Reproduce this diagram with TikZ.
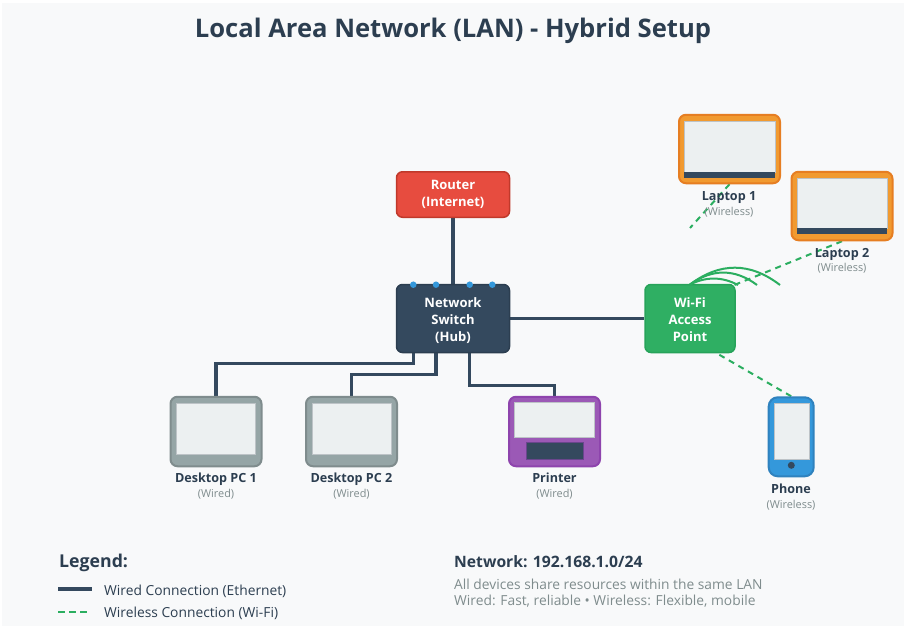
\documentclass[tikz,border=0pt]{standalone}
\usepackage{fontspec}
\setmainfont{Open Sans}
\usetikzlibrary{backgrounds}
\definecolor{bg}{HTML}{F8F9FA}
\definecolor{navy}{HTML}{34495E}
\definecolor{ink}{HTML}{2C3E50}
\definecolor{grayt}{HTML}{7F8C8D}
\definecolor{wgreen}{HTML}{2BAE60}
\definecolor{apfill}{HTML}{2FAF63}
\definecolor{apline}{HTML}{27A35A}
\definecolor{screen}{HTML}{ECF0F1}
\definecolor{scrline}{HTML}{BDC3C7}
\definecolor{portblue}{HTML}{3498DB}
\definecolor{phoneline}{HTML}{2F82BE}
\definecolor{redfill}{HTML}{E74C3F}
\definecolor{redline}{HTML}{C0392B}
\definecolor{orfill}{HTML}{F19A30}
\definecolor{orline}{HTML}{E67E22}
\definecolor{pcfill}{HTML}{95A5A6}
\definecolor{pcline}{HTML}{7F8C8D}
\definecolor{prfill}{HTML}{9B59B6}
\definecolor{prline}{HTML}{8E44AD}
\newcommand\boxtext[2]{\raisebox{#1}[0pt][0pt]{\begin{tabular}[t]{@{}c@{}}#2\end{tabular}}}
\tikzset{
  x=1pt,y=-1pt,
  netbox/.style={rectangle,rounded corners=6pt,minimum width=113pt,text=white,font=\fontsize{13}{17}\selectfont\bfseries,inner sep=0pt,line width=1.5pt},
  devlabel/.style={font=\fontsize{12.6}{14}\selectfont\bfseries,text=ink,inner sep=0pt,anchor=base},
  devsub/.style={font=\fontsize{10.9}{12}\selectfont,text=grayt,inner sep=0pt,anchor=base},
  wired/.style={draw=navy,line width=3.2pt,line join=miter},
  wifi/.style={draw=wgreen,line width=2pt,dash pattern=on 6pt off 5pt},
  wave/.style={draw=wgreen,line width=2pt},
  devbody/.style={rectangle,line width=2pt,rounded corners=7pt,inner sep=0pt},
  scr/.style={rectangle,fill=screen,draw=scrline,line width=1pt,inner sep=0pt},
  port/.style={circle,fill=portblue,inner sep=0pt,minimum size=6.5pt},
  legendt/.style={font=\fontsize{13.8}{15}\selectfont,text=ink,inner sep=0pt,anchor=base west},
  notet/.style={font=\fontsize{13.8}{15}\selectfont,text=grayt,inner sep=0pt,anchor=base west},
  headt/.style={font=\fontsize{15.7}{18}\selectfont\bfseries,text=ink,inner sep=0pt,anchor=base west},
}
\begin{document}
\begin{tikzpicture}
\useasboundingbox (0,0) rectangle (907,629);
\node[font=\fontsize{25.6}{30}\selectfont\bfseries,text=ink,inner sep=0pt,anchor=base] (title) at (453,37) {Local Area Network (LAN) - Hybrid Setup};
% main boxes
\node[netbox,fill=redfill,draw=redline,minimum height=45.5pt] (router) at (453,194.5) {\boxtext{5.5pt}{Router\\(Internet)}};
\node[netbox,fill=navy,draw=ink,minimum height=68pt] (switch) at (453,318.5) {\boxtext{11.5pt}{Network\\Switch\\(Hub)}};
\node[netbox,fill=apfill,draw=apline,minimum width=90pt,minimum height=68pt] (ap) at (690,318.5) {\boxtext{11.5pt}{Wi-Fi\\Access\\Point}};
\node[port] (port1) at (413.3,284.7) {};
\node[port] (port2) at (436,284.7) {};
\node[port] (port3) at (469.7,284.7) {};
\node[port] (port4) at (492.3,284.7) {};
% devices
\node[devbody,fill=pcfill,draw=pcline,minimum width=91pt,minimum height=69.5pt] (pc1) at (216,431.5) {};
\node[scr,minimum width=79pt,minimum height=51pt] (pc1scr) at (216,428.5) {};
\node[devlabel] (pc1lab) at (216,482) {Desktop PC 1};
\node[devsub] (pc1sub) at (216,497) {(Wired)};
\node[devbody,fill=pcfill,draw=pcline,minimum width=91pt,minimum height=69.5pt] (pc2) at (351.5,431.5) {};
\node[scr,minimum width=79pt,minimum height=51pt] (pc2scr) at (351.5,428.5) {};
\node[devlabel] (pc2lab) at (351.5,482) {Desktop PC 2};
\node[devsub] (pc2sub) at (351.5,497) {(Wired)};
\node[devbody,fill=prfill,draw=prline,minimum width=91pt,minimum height=69.5pt] (printer) at (554.5,431.5) {};
\node[scr,minimum width=80pt,minimum height=35pt] (prscr) at (554.5,420) {};
\node[rectangle,fill=navy,draw=prline!60!navy,line width=.5pt,minimum width=57pt,minimum height=17pt,inner sep=0pt] (prtray) at (554.5,451.2) {};
\node[devlabel] (prlab) at (554.5,482) {Printer};
\node[devsub] (prsub) at (554.5,497) {(Wired)};
\node[devbody,fill=orfill,draw=orline,minimum width=101pt,minimum height=68.5pt] (lap1) at (729.5,149) {};
\node[scr,minimum width=91pt,minimum height=51pt] (lap1scr) at (729.5,146.5) {};
\node[rectangle,fill=navy,minimum width=91pt,minimum height=6pt,inner sep=0pt] (lap1bar) at (729.5,175) {};
\node[devlabel] (lap1lab) at (729,200) {Laptop 1};
\node[devsub] (lap1sub) at (729,215) {(Wireless)};
\node[devbody,fill=orfill,draw=orline,minimum width=101pt,minimum height=68.5pt] (lap2) at (842,206) {};
\node[scr,minimum width=90pt,minimum height=50pt] (lap2scr) at (842,203) {};
\node[rectangle,fill=navy,minimum width=90pt,minimum height=6pt,inner sep=0pt] (lap2bar) at (842,231) {};
\node[devlabel] (lap2lab) at (842,257) {Laptop 2};
\node[devsub] (lap2sub) at (842,271) {(Wireless)};
\node[devbody,rounded corners=9pt,fill=portblue,draw=phoneline,minimum width=45pt,minimum height=79pt] (phone) at (791.2,436.8) {};
\node[scr,minimum width=35pt,minimum height=56.5pt] (phonescr) at (791.5,431.3) {};
\node[circle,fill=navy,inner sep=0pt,minimum size=7pt] (phonebtn) at (791.3,465.3) {};
\node[devlabel] (phlab) at (791,493) {Phone};
\node[devsub] (phsub) at (791,508) {(Wireless)};
% free ends
\coordinate (lap1end) at (690,228);
\coordinate (lap2end) at (690,303);
\coordinate (phoneend) at (718,354);
\coordinate (wavestart) at (690,284.5);
\coordinate (wave1) at (738,285);
\coordinate (wave2) at (757,285);
\coordinate (wave3) at (780,285);
\begin{scope}[on background layer]
\fill[white] (0,0) rectangle (907,629);
\fill[bg] (2,3) rectangle (904,626);
\draw[wired] (router.south) -- (switch.north);
\draw[wired] (switch.east) -- (ap.west);
\draw[wired] (switch.south -| port1) -- ++(0,10.5) -| (pc1.north);
\draw[wired] (switch.south -| port2) -- ++(0,21.5) -| (pc2.north);
\draw[wired] (switch.south -| port3) -- ++(0,32.5) -| (printer.north);
\draw[wifi] (lap1.south) -- (lap1end);
\draw[wifi] (lap2.south) -- (lap2end);
\draw[wifi] (phone.north) -- (phoneend);
\end{scope}
\draw[wave] (wavestart) .. controls (706,276.5) and (722,276.5) .. (wave1);
\draw[wave] (wavestart) .. controls (712,268.5) and (735,268.5) .. (wave2);
\draw[wave] (wavestart) .. controls (720,262) and (750,262) .. (wave3);
% legend
\node[font=\fontsize{17.7}{20}\selectfont\bfseries,text=ink,inner sep=0pt,anchor=base west] (legtitle) at (59,567) {Legend:};
\node[legendt] (legwired) at (104,595) {Wired Connection (Ethernet)};
\node[legendt] (legwifi) at (104,617) {Wireless Connection (Wi-Fi)};
\coordinate (lw1) at (58,589);
\coordinate (lw2) at (92,589);
\coordinate (lf1) at (58,612);
\coordinate (lf2) at (87,612);
\draw[wired] (lw1) -- (lw2);
\draw[draw=wgreen,line width=2pt,dash pattern=on 7pt off 4pt] (lf1) -- (lf2);
% network note
\node[headt] (nethead) at (454,567) {Network: 192.168.1.0/24};
\node[notet] (note1) at (454,589) {All devices share resources within the same LAN};
\node[notet] (note2) at (454,605.7) {Wired: Fast, reliable • Wireless: Flexible, mobile};
\end{tikzpicture}
\end{document}
